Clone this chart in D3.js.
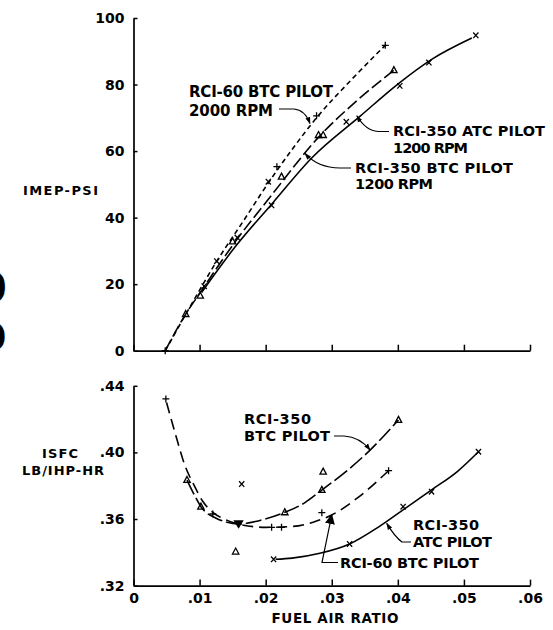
<!DOCTYPE html>
<html><head><meta charset="utf-8">
<script src="https://cdn.jsdelivr.net/npm/d3@7"></script>
<style>
body{margin:0;background:#fff}
svg{display:block}
text{font-family:"DejaVu Sans",sans-serif;font-weight:bold;fill:#000}
</style>
</head><body>
<svg id="c" width="553" height="630"></svg>
<script>
// ---------- data ----------
const xTicks = [0, 0.01, 0.02, 0.03, 0.04, 0.05, 0.06];
const xTickLabels = ["0", ".01", ".02", ".03", ".04", ".05", ".06"];
const imepTicks = [0, 20, 40, 60, 80, 100];
const imepTickLabels = ["0", "20", "40", "60", "80", "100"];
const isfcTicks = [0.32, 0.36, 0.40, 0.44];
const isfcTickLabels = [".32", ".36", ".40", ".44"];

// IMEP (top) faired curves
const imepRci60Curve = [[0.0048,0],[0.0085,13],[0.0126,26.9],[0.0165,38.6],[0.0204,50.4],[0.0240,60.5],[0.0277,70.0],[0.0330,81.5],[0.0381,91.8]];
const imepBtcCurve   = [[0.0048,0],[0.0079,11],[0.0101,17.5],[0.0153,32.5],[0.0204,45.5],[0.0283,64.8],[0.0340,75.5],[0.0394,84.3]];
const imepAtcCurve   = [[0.0103,17.5],[0.0153,31],[0.0211,44.5],[0.0270,58],[0.0343,70.5],[0.0401,80.3],[0.0453,87.8],[0.0512,94]];
// IMEP test points [fuel-air ratio, imep, symbol]
const imepRci60Marks = [[0.0048,0,"plus"],[0.0126,26.9,"x"],[0.0204,50.8,"x"],[0.0217,55.3,"plus"],[0.0277,70.6,"plus"],[0.0381,91.8,"plus"]];
const imepBtcMarks   = [[0.0079,11,"tri"],[0.0101,16.5,"tri"],[0.0150,32.8,"tri"],[0.0224,52.3,"tri"],[0.0280,64.8,"tri"],[0.0287,64.8,"tri"],[0.0394,84.3,"tri"]];
const imepAtcMarks   = [[0.0107,19.4,"x"],[0.0157,34,"x"],[0.0209,43.7,"x"],[0.0322,68.8,"x"],[0.0403,79.6,"x"],[0.0447,86.6,"x"],[0.0518,94.8,"x"]];

// ISFC (bottom) faired curves
const isfcRci60Curve = [[0.0050,0.430],[0.0062,0.413],[0.0078,0.392],[0.0092,0.380],[0.0105,0.3705],[0.0120,0.3640],[0.0140,0.3595],[0.0160,0.3568],[0.0200,0.3550],[0.0240,0.3555],[0.0275,0.3585],[0.0300,0.3624],[0.0340,0.3730],[0.0386,0.3890]];
const isfcBtcCurve   = [[0.0081,0.3834],[0.0092,0.3745],[0.0102,0.3674],[0.0125,0.3605],[0.0160,0.3570],[0.0190,0.3590],[0.0229,0.3640],[0.0260,0.3700],[0.0285,0.3774],[0.0320,0.3880],[0.0358,0.4014],[0.0401,0.4195]];
const isfcAtcCurve   = [[0.0215,0.3358],[0.0240,0.3365],[0.0282,0.3394],[0.0327,0.3450],[0.0370,0.3550],[0.0408,0.3655],[0.0451,0.3775],[0.0490,0.3885],[0.0522,0.4004]];
// ISFC test points
const isfcRci60Marks = [[0.0049,0.4321,"plus"],[0.0120,0.3630,"plus"],[0.0159,0.3570,"v"],[0.0209,0.3550,"plus"],[0.0224,0.3550,"plus"],[0.0285,0.3638,"plus"],[0.0386,0.3890,"plus"]];
const isfcBtcMarks   = [[0.0081,0.3834,"tri"],[0.0102,0.3674,"tri"],[0.01546,0.3404,"tri"],[0.0229,0.3640,"tri"],[0.0285,0.3774,"tri"],[0.0287,0.3884,"tri"],[0.0401,0.4195,"tri"]];
const isfcAtcMarks   = [[0.01637,0.3810,"x"],[0.0212,0.3358,"x"],[0.0327,0.3450,"x"],[0.0408,0.3674,"x"],[0.0451,0.3764,"x"],[0.0522,0.4004,"x"]];

// ---------- scales ----------
const svg = d3.select("#c");
const x = d3.scaleLinear().domain([0, 0.06]).range([133.5, 530]);
const yTop = d3.scaleLinear().domain([0, 100]).range([350.7, 18]);
const yBot = d3.scaleLinear().domain([0.32, 0.44]).range([585.6, 385.8]);

// arrow marker
const defs = svg.append("defs");
defs.append("marker").attr("id","arr").attr("viewBox","0 0 10 10").attr("refX",9).attr("refY",5)
  .attr("markerWidth",7).attr("markerHeight",7).attr("markerUnits","userSpaceOnUse").attr("orient","auto")
  .append("path").attr("d","M0,1.5L10,5L0,8.5Z").attr("fill","#000");
defs.append("marker").attr("id","arrBig").attr("viewBox","0 0 10 10").attr("refX",9).attr("refY",5)
  .attr("markerWidth",10).attr("markerHeight",10).attr("markerUnits","userSpaceOnUse").attr("orient","auto")
  .append("path").attr("d","M0,0L10,5L0,10Z").attr("fill","#000");

// ---------- axes ----------
function styleAxis(g){
  g.select(".domain").attr("stroke","#000").attr("stroke-width",1.7);
  g.selectAll(".tick line").attr("stroke","#000").attr("stroke-width",1.5);
  g.selectAll(".tick text").attr("font-family","DejaVu Sans, sans-serif").attr("font-weight","bold").attr("font-size",14).attr("fill","#000");
}
// top
svg.append("g").attr("transform",`translate(0,${yTop(0)})`)
  .call(d3.axisBottom(x).tickValues(xTicks).tickSizeInner(-6).tickSizeOuter(0).tickFormat(""))
  .call(styleAxis);
svg.append("g").attr("transform",`translate(${x(0)},0)`)
  .call(d3.axisLeft(yTop).tickValues(imepTicks).tickSizeInner(-4).tickSizeOuter(0).tickPadding(9)
    .tickFormat((d,i)=>imepTickLabels[i]))
  .call(styleAxis);
// bottom
svg.append("g").attr("transform",`translate(0,${yBot(0.32)})`)
  .call(d3.axisBottom(x).tickValues(xTicks).tickSizeInner(-6).tickSizeOuter(0).tickPadding(7.5)
    .tickFormat((d,i)=>xTickLabels[i]))
  .call(styleAxis);
svg.append("g").attr("transform",`translate(${x(0)},0)`)
  .call(d3.axisLeft(yBot).tickValues(isfcTicks).tickSizeInner(-4).tickSizeOuter(0).tickPadding(9)
    .tickFormat((d,i)=>isfcTickLabels[i]))
  .call(styleAxis);

// ---------- curves ----------
function curve(data, ys, dash){
  const line = d3.line().x(d=>x(d[0])).y(d=>ys(d[1])).curve(d3.curveMonotoneX);
  svg.append("path").attr("d", line(data)).attr("fill","none").attr("stroke","#000")
    .attr("stroke-width",1.6).attr("stroke-dasharray", dash || null);
}
curve(imepRci60Curve, yTop, "5,3.5");
curve(imepBtcCurve, yTop, "12,4");
curve(imepAtcCurve, yTop, null);
curve(isfcRci60Curve, yBot, "11,6");
curve(isfcBtcCurve, yBot, "16,4");
curve(isfcAtcCurve, yBot, null);

// ---------- markers ----------
function marks(data, ys){
  data.forEach(d=>{
    const px = x(d[0]), py = ys(d[1]);
    let p, fill = "none";
    if (d[2]==="plus") p = `M${px-3.5},${py}H${px+3.5}M${px},${py-3.5}V${py+3.5}`;
    else if (d[2]==="x") p = `M${px-2.6},${py-2.8}L${px+2.6},${py+2.8}M${px+2.6},${py-2.8}L${px-2.6},${py+2.8}`;
    else if (d[2]==="tri") p = `M${px},${py-3.6}L${px+3.2},${py+2.4}L${px-3.2},${py+2.4}Z`;
    else { p = `M${px-4},${py-3}L${px+4},${py-3}L${px},${py+3.5}Z`; fill = "#000"; }
    svg.append("path").attr("d",p).attr("fill",fill).attr("stroke","#000").attr("stroke-width",1.3);
  });
}
marks(imepRci60Marks, yTop); marks(imepBtcMarks, yTop); marks(imepAtcMarks, yTop);
marks(isfcRci60Marks, yBot); marks(isfcBtcMarks, yBot); marks(isfcAtcMarks, yBot);

// ---------- annotations ----------
function label(str, tx, ty, w, size){
  svg.append("text").attr("x",tx).attr("y",ty).attr("font-size",size||15)
    .attr("textLength",w).attr("lengthAdjust","spacing").text(str);
}
function leader(sx, sy, bx, cx, cy, tip, big){
  const p = d3.path();
  p.moveTo(sx, sy); p.lineTo(bx, sy);
  if (cx === null) p.lineTo(tip[0], tip[1]); else p.quadraticCurveTo(cx, cy, tip[0], tip[1]);
  svg.append("path").attr("d", p.toString()).attr("fill","none").attr("stroke","#000")
    .attr("stroke-width",1.2).attr("marker-end", big ? "url(#arrBig)" : "url(#arr)");
}

// top chart labels
label("RCI-60 BTC PILOT", 189, 96.5, 144);
label("2000 RPM", 189, 115.5, 84);
leader(279, 109, 294, 305, 110, [x(0.0267), yTop(68.3)]);

label("RCI-350 ATC PILOT", 393, 136, 152, 14.5);
label("1200 RPM", 393, 153.3, 75, 14.5);
leader(389, 131.5, 378, 366, 131, [x(0.0338), yTop(70.6)]);

label("RCI-350 BTC PILOT", 355, 172.5, 158, 14.5);
label("1200 RPM", 355, 189, 78, 14.5);
leader(351, 168, 340, 318, 168, [x(0.02595), yTop(59.3)]);

// bottom chart labels
label("RCI-350", 244, 424, 67, 14.5);
label("BTC PILOT", 244, 440.5, 86, 14.5);
leader(334, 436, 344, 360, 437, [x(0.03579), yBot(0.4014)]);

label("RCI-350", 413, 529.5, 66, 14.5);
label("ATC PILOT", 413, 546.7, 79, 14.5);
leader(411, 542, 402, 395, 537, [x(0.03832), yBot(0.3574)]);

label("RCI-60 BTC PILOT", 340, 568.3, 139, 14.5);
leader(338, 562.5, 322, null, null, [x(0.0300), yBot(0.3624)], true);

// axis titles
label("IMEP-PSI", 23, 195, 75, 13);
label("ISFC", 42, 458, 36, 13);
label("LB/IHP-HR", 22, 475, 82, 13);
svg.append("text").attr("x",335).attr("y",623.3).attr("text-anchor","middle").attr("font-size",13.5)
  .attr("textLength",127).attr("lengthAdjust","spacing").text("FUEL AIR RATIO");

// cut-off glyphs at the left page edge
svg.append("text").attr("x",-21).attr("y",302).attr("font-size",40).text("0");
svg.append("text").attr("x",-20).attr("y",350).attr("font-size",38).text("0");
</script>
</body></html>
